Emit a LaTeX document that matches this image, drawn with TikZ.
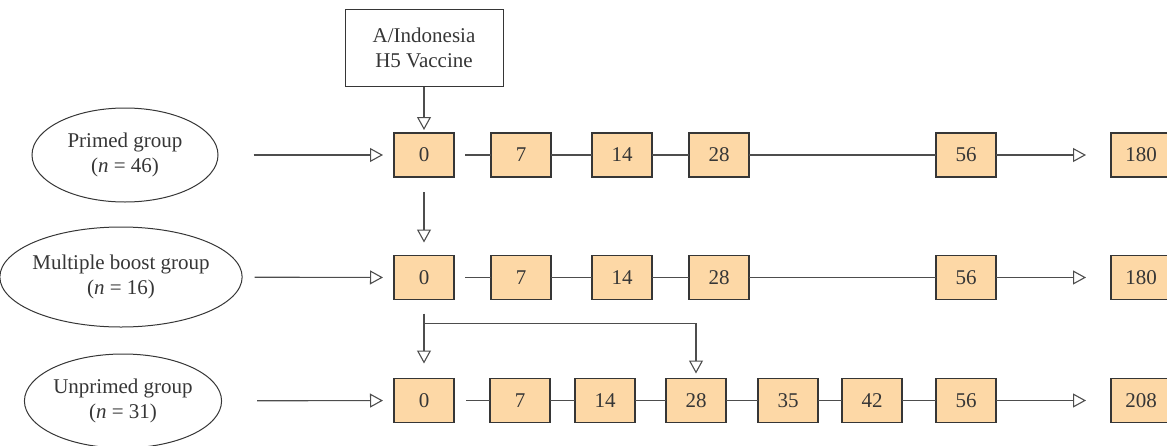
\documentclass[tikz,border=0pt]{standalone}
\usepackage{fontspec}
\setmainfont{Liberation Serif}
\usetikzlibrary{arrows.meta,positioning,shapes.geometric,calc}
\definecolor{daybox}{HTML}{FDD8A6}
\definecolor{edgec}{HTML}{363636}
\definecolor{wire}{HTML}{4D4D4D}
\tikzset{
  txt/.style={font=\fontsize{10.5}{12.5}\selectfont, text=edgec},
  day/.style={rectangle, draw=edgec, fill=daybox, line width=0.6pt, txt,
              minimum width=30pt, minimum height=22pt, inner sep=0pt, outer sep=0pt},
  grp/.style={ellipse, draw=edgec, line width=0.5pt, txt, align=center, inner sep=0pt},
  vax/.style={rectangle, draw=edgec, line width=0.5pt, txt, align=center,
              minimum width=79pt, minimum height=38.5pt},
  ln/.style={draw=wire, line width=0.55pt},
  arr/.style={ln, -{Triangle[open, length=6.5pt, width=7pt]}},
}

\begin{document}
\begin{tikzpicture}[x=0.5pt, y=-0.5pt]
  \useasboundingbox (0,0) rectangle (1167,445);
  \clip (0,0) rectangle (1167,445);

  % vaccine
  \node[vax] (vac) at (424,47.5) {A/Indonesia\\H5 Vaccine};

  % groups
  \node[grp, minimum width=93pt, minimum height=47pt] (pg) at (125,155) {Primed group\\(\textit{n}~=~46)};
  \node[grp, inner xsep=-1.5pt, minimum width=119pt, minimum height=50pt] (mg) at (121,277) {Multiple boost group\\(\textit{n}~=~16)};
  \node[grp, minimum width=95pt, minimum height=47pt] (ug) at (123,401) {Unprimed group\\(\textit{n}~=~31)};

  % primed row
  \node[day] (p0) at (424,155) {0};
  \node[day, right=18.5pt of p0] (p7) {7};
  \node[day, right=20.5pt of p7] (p14) {14};
  \node[day, right=18.5pt of p14] (p28) {28};
  \node[day, right=93.5pt of p28] (p56) {56};
  \node[day, right=57.5pt of p56] (p180) {180};

  % multiple boost row
  \node[day] (m0) at (424,277.5) {0};
  \node[day, right=18.5pt of m0] (m7) {7};
  \node[day, right=20.5pt of m7] (m14) {14};
  \node[day, right=18.5pt of m14] (m28) {28};
  \node[day, right=93.5pt of m28] (m56) {56};
  \node[day, right=57.5pt of m56] (m180) {180};

  % unprimed row
  \node[day] (u0) at (424,400.5) {0};
  \node[day, right=18pt of u0] (u7) {7};
  \node[day, right=12.5pt of u7] (u14) {14};
  \node[day, right=15.5pt of u14] (u28) {28};
  \node[day, right=16pt of u28] (u35) {35};
  \node[day, right=12pt of u35] (u42) {42};
  \node[day, right=17pt of u42] (u56) {56};
  \node[day, right=57.5pt of u56] (u208) {208};

  \draw[arr, shorten >=1.5pt] (vac) -- (p0);
  \draw[arr, shorten <=17.5pt, shorten >=5.5pt] (pg) -- (p0);
  \draw[arr, shorten <=6pt, shorten >=5.5pt] (mg) -- (m0);
  \draw[arr, shorten <=17.5pt, shorten >=5.5pt] (ug) -- (u0);

  \draw[ln, shorten <=5.5pt] (p0) -- (p7);
  \draw[ln] (p7) -- (p14); \draw[ln] (p14) -- (p28); \draw[ln] (p28) -- (p56);
  \draw[arr, shorten >=12.5pt] (p56) -- (p180);

  \draw[ln, shorten <=5.5pt] (m0) -- (m7);
  \draw[ln] (m7) -- (m14); \draw[ln] (m14) -- (m28); \draw[ln] (m28) -- (m56);
  \draw[arr, shorten >=12.5pt] (m56) -- (m180);

  \draw[ln, shorten <=6pt] (u0) -- (u7);
  \draw[ln] (u7) -- (u14); \draw[ln] (u14) -- (u28); \draw[ln] (u28) -- (u35);
  \draw[ln] (u35) -- (u42); \draw[ln] (u42) -- (u56);
  \draw[arr, shorten >=12.5pt] (u56) -- (u208);

  % boosts
  \draw[arr, shorten <=7.5pt, shorten >=6.5pt] (p0) -- (m0);
  \draw[arr, shorten <=7pt, shorten >=7.5pt] (m0) -- (u0);
  \coordinate (split) at ($(m0.south)+(0,24)$);
  \draw[arr, shorten >=2.5pt] (split) -| (u28.north);
\end{tikzpicture}
\end{document}
